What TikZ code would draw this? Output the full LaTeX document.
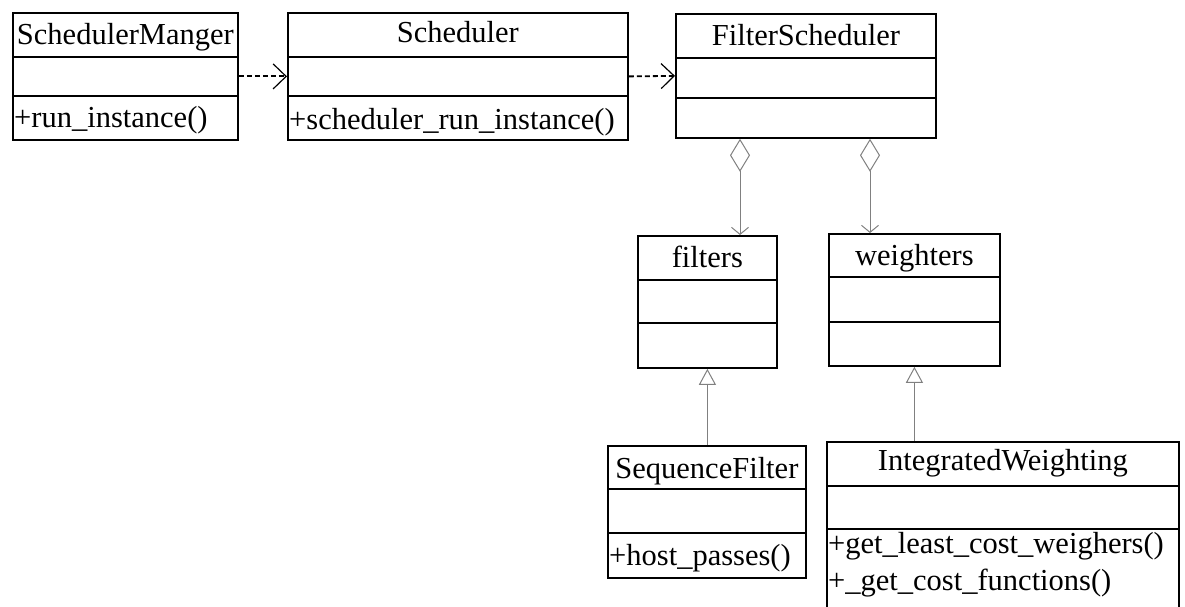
\documentclass[tikz,border=0pt]{standalone}
\usepackage{fontspec}
\setmainfont{Liberation Serif}
\usetikzlibrary{arrows.meta}

\tikzset{
  classbox/.style={draw, line width=1.8pt, anchor=north west, inner sep=0pt},
  classline/.style={line width=1.8pt},
  classname/.style={anchor=base, inner sep=0pt, font=\fontsize{30.5}{36}\selectfont},
  method/.style={anchor=base west, inner sep=0pt, font=\fontsize{30.5}{36}\selectfont},
  uses/.style={line width=1.8pt, dash pattern=on 5pt off 3pt,
    -{Straight Barb[length=13pt,width=25pt,line width=1.2pt]}},
  aggr/.style={gray, line width=1pt,
    {Diamond[open,length=33pt,width=20pt]}-{Straight Barb[length=7pt,width=17pt]}},
  inherit/.style={gray, line width=1pt, -{Triangle[open,length=16pt,width=17pt]}}
}

\begin{document}
\begin{tikzpicture}[x=1pt,y=-1pt]
        \clip (0,0) rectangle (1185,607);
        %% SchedulerManger
        \node[classbox, minimum width=225pt, minimum height=127pt] (mgr) at (12,12) {};
        \draw[classline] ([yshift=-45pt]mgr.north west) -- ([yshift=-45pt]mgr.north east);
        \draw[classline] ([yshift=-84pt]mgr.north west) -- ([yshift=-84pt]mgr.north east);
        \node[classname] (mgrname) at ([yshift=-33pt]mgr.north) {SchedulerManger};
        \node[method] (mgrop) at ([xshift=2pt,yshift=-116pt]mgr.north west) {+run\_instance()};
        %% Scheduler
        \node[classbox, minimum width=340pt, minimum height=127pt] (sched) at (287,12) {};
        \draw[classline] ([yshift=-45pt]sched.north west) -- ([yshift=-45pt]sched.north east);
        \draw[classline] ([yshift=-84pt]sched.north west) -- ([yshift=-84pt]sched.north east);
        \node[classname] (schedname) at ([yshift=-31pt]sched.north) {Scheduler};
        \node[method] (schedop) at ([xshift=2pt,yshift=-118pt]sched.north west) {+scheduler\_run\_instance()};
        %% FilterScheduler
        \node[classbox, minimum width=260pt, minimum height=124pt] (fsched) at (675,13) {};
        \draw[classline] ([yshift=-45pt]fsched.north west) -- ([yshift=-45pt]fsched.north east);
        \draw[classline] ([yshift=-85pt]fsched.north west) -- ([yshift=-85pt]fsched.north east);
        \node[classname] (fschedname) at ([yshift=-33pt]fsched.north) {FilterScheduler};
        %% filters
        \node[classbox, minimum width=139pt, minimum height=132pt] (filt) at (637,235) {};
        \draw[classline] ([yshift=-45pt]filt.north west) -- ([yshift=-45pt]filt.north east);
        \draw[classline] ([yshift=-88pt]filt.north west) -- ([yshift=-88pt]filt.north east);
        \node[classname] (filtname) at ([yshift=-32pt]filt.north) {filters};
        %% weighters
        \node[classbox, minimum width=171pt, minimum height=132pt] (wght) at (828,233) {};
        \draw[classline] ([yshift=-44pt]wght.north west) -- ([yshift=-44pt]wght.north east);
        \draw[classline] ([yshift=-89pt]wght.north west) -- ([yshift=-89pt]wght.north east);
        \node[classname] (wghtname) at ([yshift=-32pt]wght.north) {weighters};
        %% SequenceFilter
        \node[classbox, minimum width=198pt, minimum height=132pt] (seqf) at (607,445) {};
        \draw[classline] ([yshift=-44pt]seqf.north west) -- ([yshift=-44pt]seqf.north east);
        \draw[classline] ([yshift=-88pt]seqf.north west) -- ([yshift=-88pt]seqf.north east);
        \node[classname] (seqfname) at ([yshift=-33pt]seqf.north) {SequenceFilter};
        \node[method] (seqfop) at ([xshift=2pt,yshift=-120pt]seqf.north west) {+host\_passes()};
        %% IntegratedWeighting
        \node[classbox, minimum width=352pt, minimum height=180pt] (intw) at (826,441) {};
        \draw[classline] ([yshift=-45pt]intw.north west) -- ([yshift=-45pt]intw.north east);
        \draw[classline] ([yshift=-88pt]intw.north west) -- ([yshift=-88pt]intw.north east);
        \node[classname] (intwname) at ([yshift=-29pt]intw.north) {IntegratedWeighting};
        \node[method] (intwop1) at ([xshift=2pt,yshift=-112pt]intw.north west) {+get\_least\_cost\_weighers()};
        \node[method] (intwop2) at ([xshift=2pt,yshift=-149pt]intw.north west) {+\_get\_cost\_functions()};
        %% Dependencies
        \draw[uses] (mgr.east) -- (sched.west);
        \draw[uses] (sched.east) -- (fsched.west);
        %% Aggregations
        \coordinate (agg1) at ([xshift=65pt]fsched.south west);
        \coordinate (agg2) at ([xshift=195pt]fsched.south west);
        \draw[aggr] (agg1) -- (agg1 |- filt.north);
        \draw[aggr] (agg2) -- (agg2 |- wght.north);
        %% Generalisations
        \draw[inherit] (seqf.north -| filt.south) -- (filt.south);
        \draw[inherit] (intw.north -| wght.south) -- (wght.south);
    \end{tikzpicture}
\end{document}
